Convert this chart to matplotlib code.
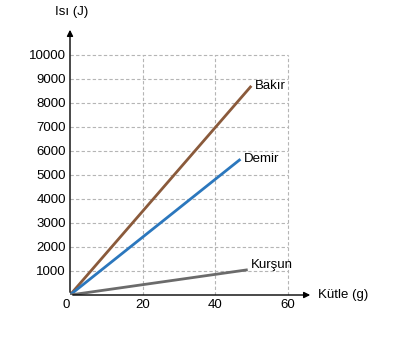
import numpy as np
import matplotlib.pyplot as plt

plt.rcParams['font.family'] = ['Liberation Sans', 'DejaVu Sans']

metals = ['Bakır', 'Demir', 'Kurşun']
mass_end = [50, 47, 49]          # g
heat_end = [8700, 5650, 1050]    # J
colors = ['#8a5a3b', '#2b77bd', '#6b6b6b']
label_dy = [0, 0, 200]

xticks = [0, 20, 40, 60]
yticks = [1000, 2000, 3000, 4000, 5000, 6000, 7000, 8000, 9000, 10000]

fig = plt.figure(figsize=(3.93, 3.38), dpi=100)
ax = fig.add_axes([70 / 393, 43 / 338, 243 / 393, 268 / 338])
ax.set_xlim(0, 67)
ax.set_ylim(0, 11150)

# dashed grid bounded to the data area
ax.hlines(yticks, 0, 60, colors='#b5b5b5', linestyles=(0, (3, 2)), linewidth=0.8, zorder=1)
ax.vlines(xticks[1:], 0, 10000, colors='#b5b5b5', linestyles=(0, (3, 2)), linewidth=0.8, zorder=1)

for name, m, q, c, dy in zip(metals, mass_end, heat_end, colors, label_dy):
    ax.plot([0, m], [0, q], color=c, linewidth=2.0, solid_capstyle='butt', zorder=3)
    ax.text(m + 1.0, q + dy, name, fontsize=9.5, va='center', ha='left', zorder=4)

for s in ['top', 'right', 'left', 'bottom']:
    ax.spines[s].set_visible(False)

# axes with arrows
ax.annotate('', xy=(67, 0), xytext=(0, 0),
            arrowprops=dict(arrowstyle='-|>', color='black', lw=1.0, mutation_scale=9),
            annotation_clip=False)
ax.annotate('', xy=(0, 11150), xytext=(0, 0),
            arrowprops=dict(arrowstyle='-|>', color='black', lw=1.0, mutation_scale=9),
            annotation_clip=False)

ax.set_xticks(xticks)
ax.set_yticks(yticks)
ax.set_xticklabels([str(t) for t in xticks], fontsize=9.5)
ax.set_yticklabels([str(t) for t in yticks], fontsize=9.5)
ax.tick_params(length=0, pad=3)
ax.get_xticklabels()[0].set_horizontalalignment('right')

ax.text(68.5, 0, 'Kütle (g)', fontsize=9.5, va='center', ha='left')
ax.text(0.5, 11150 + 380, 'Isı (J)', fontsize=9.5, va='bottom', ha='center')

fig.savefig('out.png', dpi=100)
